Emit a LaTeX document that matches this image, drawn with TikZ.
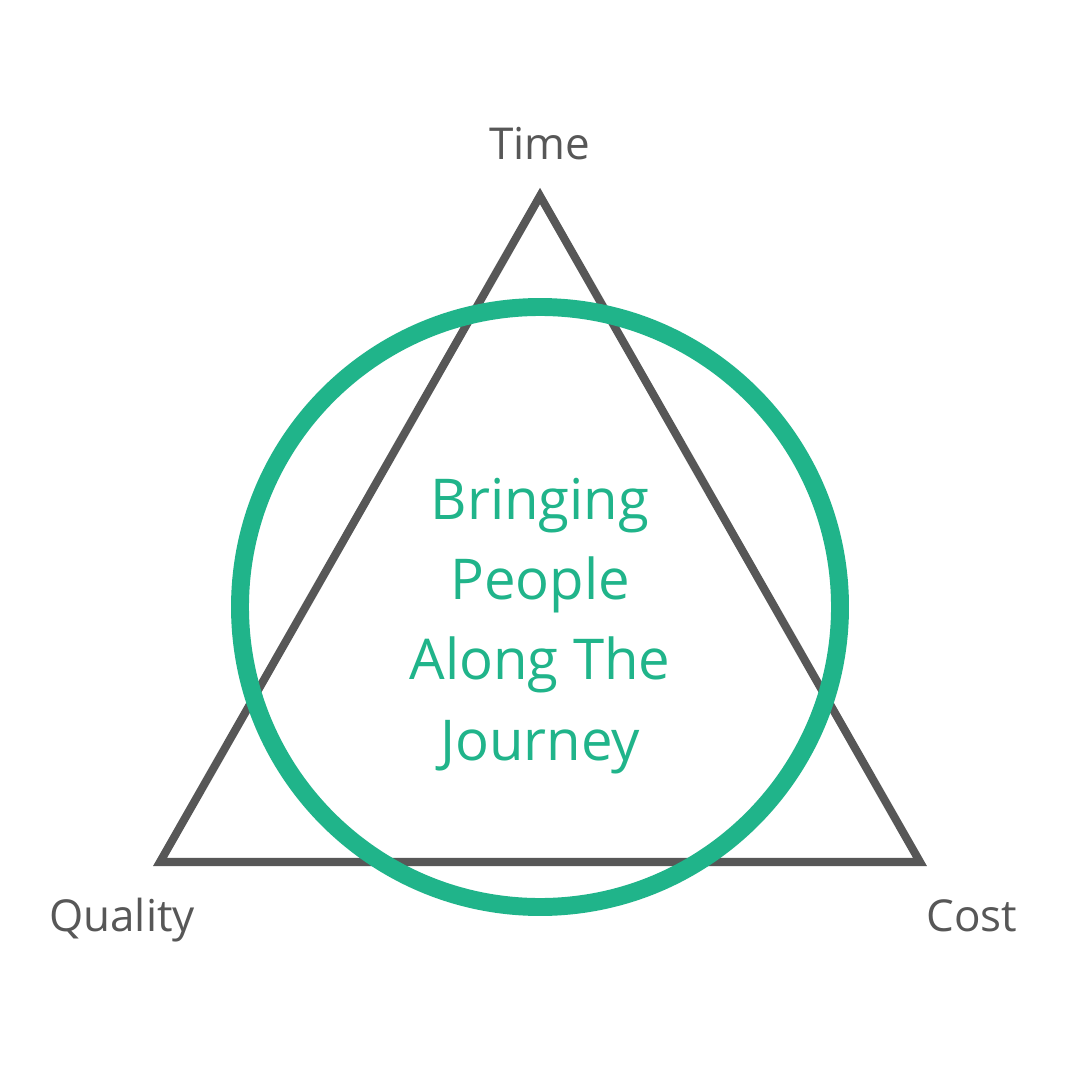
\documentclass[tikz,border=0pt]{standalone}
\usepackage{fontspec}
\setmainfont{Open Sans}
\usepackage{xcolor}
\definecolor{tgray}{HTML}{575757}
\definecolor{tgreen}{HTML}{20B48A}

\begin{document}
\begin{tikzpicture}[x=0.01cm,y=-0.01cm,
  corner/.style={text=tgray,font=\fontsize{12.5}{15}\selectfont,inner sep=0pt,anchor=base}]
\useasboundingbox[fill=white] (0,0) rectangle (1080,1080);
\coordinate (T) at (540,196);
\coordinate (Q) at (160,862);
\coordinate (C) at (920,862);
\draw[tgray,line width=2.3pt,miter limit=10] (T) -- (C) -- (Q) -- cycle;
\draw[tgreen,line width=5.1pt] (540,607) circle (300);
\node[corner] (time) at (540,160) {Time};
\node[corner] (quality) at (122,931) {Quality};
\node[corner] (cost) at (972,931) {Cost};
\node[text=tgreen,align=center,inner sep=0pt,
  font=\fontsize{16}{22.8}\selectfont] (msg) at (540,626)
  {Bringing\\People\\Along The\\Journey};
\end{tikzpicture}
\end{document}
